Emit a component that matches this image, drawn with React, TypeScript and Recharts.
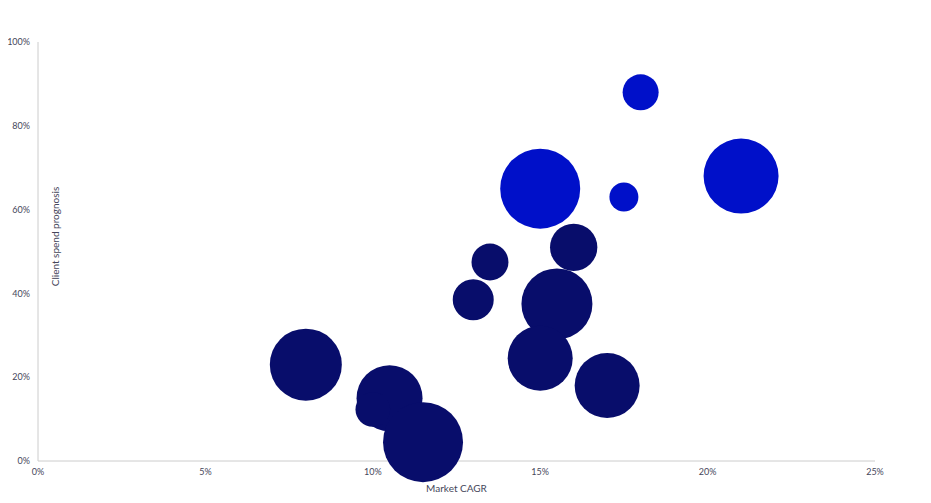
import React from "react";
import { ScatterChart, Scatter, XAxis, YAxis, ZAxis } from "recharts";

// Market CAGR (%), client spend prognosis (%), bubble size (relative market size)
const highlightCagr = [18, 15, 17.5, 21];
const highlightSpend = [88, 65, 63, 68];
const highlightSize = [324, 1600, 210, 1406];

const baseCagr = [13.5, 13, 16, 15.5, 15, 17, 8, 10.5, 10, 11.5];
const baseSpend = [47.5, 38.5, 51, 37.5, 24.5, 18, 23, 15, 12.3, 4.5];
const baseSize = [342, 420, 560, 1260, 1056, 1056, 1296, 1089, 300, 1600];

const xTicks = [0, 5, 10, 15, 20, 25];
const yTicks = [0, 20, 40, 60, 80, 100];

const highlightData = highlightCagr.map((x, i) => ({ x, y: highlightSpend[i], z: highlightSize[i] }));
const baseData = baseCagr.map((x, i) => ({ x, y: baseSpend[i], z: baseSize[i] }));

const FONT = "Lato, 'DejaVu Sans', sans-serif";
const TEXT = "#45465a";

const YLabel = (props: any) => {
  const vb = props.viewBox || {};
  const x = vb.x + vb.width + 17;
  const y = vb.y + vb.height / 2 - 15;
  return (
    <text x={x} y={y} transform={`rotate(-90, ${x}, ${y})`} textAnchor="middle" dominantBaseline="central" fontSize={10} fill={TEXT} fontFamily={FONT}>
      Client spend prognosis
    </text>
  );
};

const XLabel = (props: any) => {
  const vb = props.viewBox || {};
  const x = vb.x + vb.width / 2;
  const y = vb.y + 27;
  return (
    <text x={x} y={y} textAnchor="middle" dominantBaseline="central" fontSize={10} fill={TEXT} fontFamily={FONT}>
      Market CAGR
    </text>
  );
};

export default function App() {
  return (
    <ScatterChart width={915} height={487} margin={{ top: 34, right: 48, bottom: 4, left: 0 }}>
      <XAxis
        type="number"
        dataKey="x"
        domain={[0, 25]}
        ticks={xTicks}
        tickFormatter={(v: number) => `${v}%`}
        tickLine={false}
        axisLine={{ stroke: "#cccccc" }}
        tick={{ fontSize: 9, fill: TEXT, fontFamily: FONT }}
        height={30}
        label={<XLabel />}
      />
      <YAxis
        type="number"
        dataKey="y"
        domain={[0, 100]}
        ticks={yTicks}
        tickFormatter={(v: number) => `${v}%`}
        tickLine={false}
        axisLine={{ stroke: "#cccccc" }}
        tick={{ fontSize: 9, fill: TEXT, fontFamily: FONT }}
        width={30}
        label={<YLabel />}
      />
      <ZAxis type="number" dataKey="z" domain={[0, 1600]} range={[0, 1600 * Math.PI]} />
      <Scatter data={baseData} fill="#080D6B" isAnimationActive={false} />
      <Scatter data={highlightData} fill="#0010C9" isAnimationActive={false} />
    </ScatterChart>
  );
}
